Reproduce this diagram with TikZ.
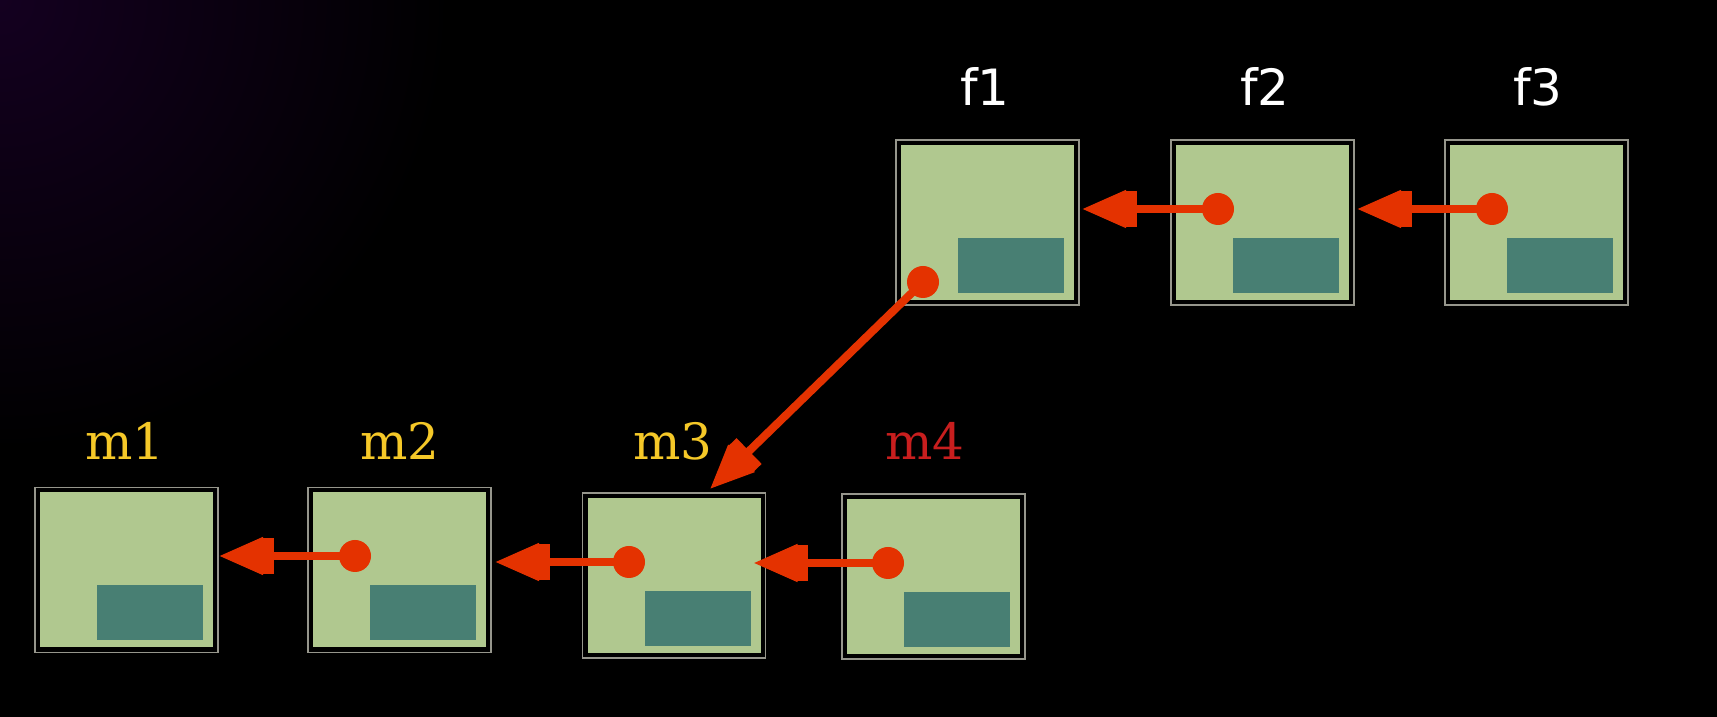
\documentclass[tikz,border=0pt]{standalone}
\usepackage{fontspec}
\usetikzlibrary{arrows.meta,calc}
\newfontfamily\flabfont{DejaVu Sans}
\newfontfamily\mlabfont{DejaVu Serif}
\definecolor{bgreen}{RGB}{176,200,143}
\definecolor{bteal}{RGB}{72,127,115}
\definecolor{bgray}{RGB}{150,150,140}
\definecolor{lred}{RGB}{228,50,0}
\definecolor{myellow}{RGB}{245,200,40}
\definecolor{mred}{RGB}{200,30,30}
\definecolor{bgpurple}{RGB}{20,0,32}
\begin{document}
\begin{tikzpicture}[x=1pt,y=1pt,
 box/.style={minimum width=183pt,minimum height=165pt,inner sep=0pt,outer sep=0pt,draw=bgray,line width=1.2pt,fill=black,
   path picture={
     \fill[bgreen] ([shift={(5pt,5pt)}]path picture bounding box.south west) rectangle ([shift={(-5pt,-5pt)}]path picture bounding box.north east);
     \fill[bteal] ([shift={(-121pt,12pt)}]path picture bounding box.south east) rectangle ([shift={(-15pt,67pt)}]path picture bounding box.south east);
   }},
 dot/.style={circle,fill=lred,minimum size=32pt,inner sep=0pt},
 link/.style={lred,line width=8pt,-{Square[length=12pt,width=36pt,sep=-1.5pt]Triangle[length=44pt,width=36pt]}},
 flab/.style={font=\flabfont\fontsize{50}{50}\selectfont,text=white,anchor=base},
 mlab/.style={font=\mlabfont\fontsize{50}{50}\selectfont,anchor=base}]
\useasboundingbox (0,0) rectangle (1717,717);
\fill[black] (0,0) rectangle (1717,717);
\begin{scope}
\clip (0,0) rectangle (1717,717);
\shade[inner color=bgpurple, outer color=black] (0,717) circle (450);
\end{scope}
% boxes
\node[box] (f1) at (987.5,494.5) {};
\node[box] (f2) at (1262.5,494.5) {};
\node[box] (f3) at (1536.5,494.5) {};
\node[box] (m1) at (126.5,147) {};
\node[box] (m2) at (399.5,147) {};
\node[box] (m3) at (674,141.5) {};
\node[box] (m4) at (933.5,140.5) {};
% labels
\node[flab] (f1l) at (985,611) {f1};
\node[flab] (f2l) at (1265,611) {f2};
\node[flab] (f3l) at (1538,611) {f3};
\node[mlab,text=myellow] (m1l) at (125,257) {m1};
\node[mlab,text=myellow] (m2l) at (400,257) {m2};
\node[mlab,text=myellow] (m3l) at (673,257) {m3};
\node[mlab,text=mred] (m4l) at (925,257) {m4};
% dot positions
\coordinate (f1c) at ($(f1.center)+(-64.5,-59.5)$);
\coordinate (f2c) at ($(f2.center)+(-44.5,13.5)$);
\coordinate (f3c) at ($(f3.center)+(-44.5,13.5)$);
\coordinate (m2c) at ($(m2.center)+(-44.5,14)$);
\coordinate (m3c) at ($(m3.center)+(-45,13.5)$);
\coordinate (m4c) at ($(m4.center)+(-45.5,13.5)$);
% links
\draw[link] (f2c) -- ($(f1.east |- f2c)+(3,0)$);
\draw[link] (f3c) -- ($(f2.east |- f3c)+(3,0)$);
\draw[link] (m2c) -- ($(m1.east |- m2c)+(1,0)$);
\draw[link] (m3c) -- ($(m2.east |- m3c)+(4,0)$);
\draw[link] (m4c) -- ($(m3.east |- m4c)+(-12,0)$);
\draw[link] (f1c) -- ($(m3.north)+(36,4)$);
% dots
\node[dot] (f1d) at (f1c) {};
\node[dot] (f2d) at (f2c) {};
\node[dot] (f3d) at (f3c) {};
\node[dot] (m2d) at (m2c) {};
\node[dot] (m3d) at (m3c) {};
\node[dot] (m4d) at (m4c) {};
\end{tikzpicture}
\end{document}
